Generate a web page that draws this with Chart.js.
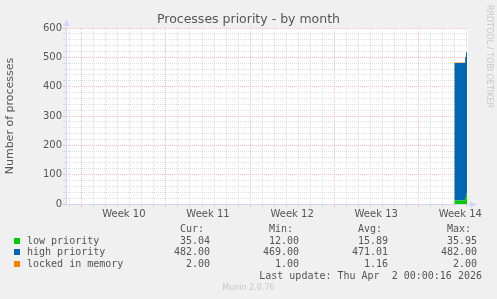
<!DOCTYPE html>
<html lang="en">
<head>
<meta charset="UTF-8">
<title>Processes priority - by month</title>
<script src="https://cdn.jsdelivr.net/npm/chart.js@4/dist/chart.umd.min.js"></script>
<style>
    body { margin: 0; width: 497px; height: 299px; background: #f0f0f0; position: relative; overflow: hidden; font-family: 'DejaVu Sans', sans-serif; }
    #wrap { position: absolute; left: 0; top: 0; width: 497px; height: 226px; }
    #title { position: absolute; left: 0; top: 11px; width: 497px; text-align: center; font-size: 12.5px; line-height: 16px; color: #555; }
    .mono { position: absolute; font-family: 'DejaVu Sans Mono', monospace; font-size: 10px; line-height: 12px; white-space: pre; color: #555; }
    .sw { position: absolute; width: 6px; height: 6px; }
    #rrd { position: absolute; left: 484px; top: 5px; writing-mode: vertical-rl; font-size: 8px; line-height: 10px; color: #c8c8c8; }
    #munin { position: absolute; left: 0; width: 497px; top: 283px; text-align: center; font-size: 8px; line-height: 10px; color: #c8c8c8; }
</style>
</head>
<body>
<div id="wrap"><canvas id="mychart"></canvas></div>
<div id="title">Processes priority - by month</div>
<div id="rrd">RRDTOOL / TOBI OETIKER</div>
<div id="legend"></div>
<div id="munin">Munin 2.0.76</div>

<script>
    // x in days, 0 = start of week 10
    const times = [31.0, 31.3, 31.6, 31.9, 31.98, 32.06];
    const lowPriority = [12, 12, 12, 12, 24, 35];
    const highPriority = [469, 469, 469, 469, 476, 482];
    const lockedMemory = [1, 1, 1, 1, 2, 2];

    const weekLabels = ['Week 10', 'Week 11', 'Week 12', 'Week 13', 'Week 14'];
    const seriesNames = ['low priority', 'high priority', 'locked in memory'];
    const seriesColors = ['#00cc00', '#0066b3', '#ff8000'];
    const curValues = ['35.04', '482.00', '2.00'];
    const minValues = ['12.00', '469.00', '1.00'];
    const avgValues = ['15.89', '471.01', '1.16'];
    const maxValues = ['35.95', '482.00', '2.00'];
    const lastUpdate = 'Last update: Thu Apr  2 00:00:16 2026';

    const gridGray = 'rgba(192,192,192,0.5)';
    const gridRed = 'rgba(255,128,128,0.5)';
    const axisColor = '#cfd6f8';
    const none = 'rgba(0,0,0,0)';

    //凡例
    const legend = document.getElementById('legend');
    let html = '';
    const cols = [
        ['Cur:', curValues, 210],
        ['Min:', minValues, 299],
        ['Avg:', avgValues, 388],
        ['Max:', maxValues, 477],
    ];
    cols.forEach(c => {
        html += '<span class="mono" style="top:222.5px;right:' + (497 - c[2] + 6) + 'px">' + c[0] + '</span>';
    });
    seriesNames.forEach((name, i) => {
        const top = 234.5 + i * 11.7;
        html += '<div class="sw" style="left:14px;top:' + (top + 3) + 'px;background:' + seriesColors[i] + '"></div>';
        html += '<span class="mono" style="left:27px;top:' + top + 'px">' + name + '</span>';
        cols.forEach(c => {
            html += '<span class="mono" style="top:' + top + 'px;right:' + (497 - c[2]) + 'px">' + c[1][i] + '</span>';
        });
    });
    html += '<span class="mono" style="top:270px;right:15px">' + lastUpdate + '</span>';
    legend.innerHTML = html;

    const pts = arr => arr.map((v, i) => ({ x: times[i], y: v }));

    const bgPlugin = {
        id: 'bg',
        beforeDraw(chart) {
            const a = chart.chartArea;
            const c = chart.ctx;
            c.save();
            c.fillStyle = '#ffffff';
            c.fillRect(a.left, a.top, a.right - a.left, a.bottom - a.top);
            c.restore();
        },
        afterDraw(chart) {
            const a = chart.chartArea;
            const c = chart.ctx;
            c.save();
            c.strokeStyle = axisColor;
            c.fillStyle = axisColor;
            c.lineWidth = 1;
            c.beginPath();
            c.moveTo(a.left + 0.5, a.bottom);
            c.lineTo(a.left + 0.5, a.top - 5);
            c.moveTo(a.left, a.bottom + 0.5);
            c.lineTo(a.right + 4, a.bottom + 0.5);
            c.stroke();
            c.beginPath();
            c.moveTo(a.left + 0.5, a.top - 9);
            c.lineTo(a.left - 2.5, a.top - 2);
            c.lineTo(a.left + 3.5, a.top - 2);
            c.fill();
            c.beginPath();
            c.moveTo(a.right + 9, a.bottom + 0.5);
            c.lineTo(a.right + 2, a.bottom - 2.5);
            c.lineTo(a.right + 2, a.bottom + 3.5);
            c.fill();
            c.restore();
        }
    };

    Chart.defaults.font.family = "'DejaVu Sans', sans-serif";
    Chart.defaults.color = '#555';

    const ctx = document.getElementById('mychart');
    const mychart = new Chart(ctx, {
        type: 'line',
        data: {
            datasets: [{
                label: seriesNames[0],
                data: pts(lowPriority),
                backgroundColor: seriesColors[0],
                fill: 'origin',
            }, {
                label: seriesNames[1],
                data: pts(highPriority),
                backgroundColor: seriesColors[1],
                fill: '-1',
            }, {
                label: seriesNames[2],
                data: pts(lockedMemory),
                backgroundColor: seriesColors[2],
                fill: '-1',
            }],
        },
        options: {
            responsive: true,
            maintainAspectRatio: false,
            animation: false,
            devicePixelRatio: 1,
            elements: {
                point: { radius: 0 },
                line: { borderWidth: 0, stepped: 'after', tension: 0 },
            },
            layout: { padding: { left: 0, right: 29, top: 28, bottom: 0 } },
            plugins: {
                legend: { display: false },
                tooltip: { enabled: false },
                title: { display: false },
            },
            scales: {
                x: {
                    type: 'linear',
                    min: -1.32,
                    max: 32.14,
                    afterBuildTicks: scale => {
                        const t = [];
                        for (let k = -2; k <= 64; k++) t.push({ value: k / 2 });
                        scale.ticks = t;
                    },
                    afterFit: scale => { scale.height = 22; },
                    ticks: {
                        autoSkip: false,
                        maxRotation: 0,
                        padding: 1,
                        color: '#555',
                        font: { size: 10 },
                        callback: v => {
                            const w = (v - 3.5) / 7;
                            return Number.isInteger(w) && w >= 0 && w < weekLabels.length ? weekLabels[w] : '';
                        },
                    },
                    grid: {
                        tickLength: 3,
                        color: c => {
                            const v = c.tick.value;
                            if (!Number.isInteger(v)) return none;
                            return v % 7 === 0 ? gridRed : gridGray;
                        },
                    },
                    border: { display: false, dash: [1, 1] },
                },
                y: {
                    stacked: true,
                    min: 0,
                    max: 600,
                    afterFit: scale => { scale.width = 66; },
                    title: {
                        display: true,
                        text: 'Number of processes',
                        color: '#555',
                        font: { size: 11 },
                        padding: { top: 4, bottom: 0 },
                    },
                    ticks: {
                        stepSize: 20,
                        autoSkip: false,
                        padding: 1,
                        color: '#555',
                        font: { size: 10 },
                        callback: v => v % 100 === 0 ? v : '',
                    },
                    grid: {
                        tickLength: 3,
                        color: c => c.tick.value % 100 === 0 ? gridRed : gridGray,
                    },
                    border: { display: false, dash: [1, 1] },
                },
            },
        },
        plugins: [bgPlugin],
    });
</script>
</body>
</html>
